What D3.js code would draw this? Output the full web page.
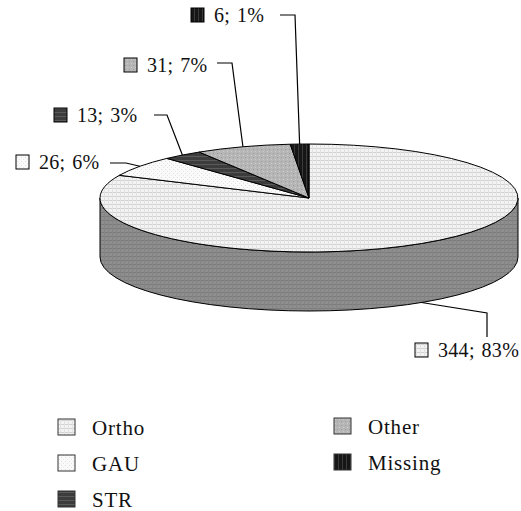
<!DOCTYPE html>
<html>
<head>
<meta charset="utf-8">
<script src="https://cdn.jsdelivr.net/npm/d3@7/dist/d3.min.js"></script>
<style>
  html, body { margin: 0; padding: 0; background: #fff; }
  svg text { font-family: "Liberation Serif", "DejaVu Serif", serif; font-size: 20px; fill: #111; letter-spacing: 0.3px; }
  svg text.lab { word-spacing: 1.5px; }
  svg text.leg { font-size: 21px; letter-spacing: 0.8px; }
</style>
</head>
<body>
<svg id="chart" width="521" height="511"></svg>
<script>
// Data, clockwise from 12 o'clock
const categories = ['Ortho', 'GAU', 'STR', 'Other', 'Missing'];
const counts = [344, 26, 13, 31, 6];
const percents = [83, 6, 3, 7, 1];

// Legend order (two columns)
const legendCol1 = ['Ortho', 'GAU', 'STR'];
const legendCol2 = ['Other', 'Missing'];

// Label layout: text position and the elbow of the leader line
const labelLayout = {
    Ortho:   { x: 438, y: 357, line: [[487, 337], [487, 313]], onSide: true },
    GAU:     { x: 39,  y: 169, line: [[110, 163], [126, 163]] },
    STR:     { x: 77,  y: 122, line: [[154, 115], [167, 115]] },
    Other:   { x: 147, y: 72,  line: [[217, 63],  [232, 63]] },
    Missing: { x: 214, y: 22,  line: [[280, 15],  [295, 15]] }
};

const svg = d3.select('#chart');
const cx = 309, cy = 198, rx = 209, ry = 54, depth = 59;

// Fill patterns like the old office chart textures
const defs = svg.append('defs');
function makePattern(id, base, lines) {
    const p = defs.append('pattern')
        .attr('id', id)
        .attr('patternUnits', 'userSpaceOnUse')
        .attr('width', 4).attr('height', 4);
    p.append('rect').attr('width', 4).attr('height', 4).attr('fill', base);
    lines.forEach(l => p.append('rect')
        .attr('x', l.x || 0).attr('y', l.y || 0)
        .attr('width', l.w).attr('height', l.h)
        .attr('fill', l.c));
}
makePattern('p-ortho', '#f3f3f3', [{ w: 4, h: 1, c: '#d2d2d2' }, { w: 1, h: 4, c: '#e2e2e2' }]);
makePattern('p-ortho-side', '#8e8e8e', [{ w: 4, h: 1, c: '#7c7c7c' }, { w: 1, h: 4, c: '#858585' }]);
makePattern('p-gau', '#fafafa', [{ x: 1, y: 1, w: 1, h: 1, c: '#dcdcdc' }, { x: 3, y: 3, w: 1, h: 1, c: '#e4e4e4' }]);
makePattern('p-str', '#3c3c3c', [{ w: 4, h: 1, c: '#5a5a5a' }]);
makePattern('p-other', '#b6b6b6', [{ x: 1, y: 1, w: 1, h: 1, c: '#9a9a9a' }, { x: 3, y: 3, w: 1, h: 1, c: '#cacaca' }]);
makePattern('p-missing', '#161616', [{ x: 2, w: 1, h: 4, c: '#3a3a3a' }]);

const fill = d3.scaleOrdinal()
    .domain(categories)
    .range(['url(#p-ortho)', 'url(#p-gau)', 'url(#p-str)', 'url(#p-other)', 'url(#p-missing)']);
const sideFill = d3.scaleOrdinal()
    .domain(categories)
    .range(['url(#p-ortho-side)', 'url(#p-gau)', 'url(#p-str)', 'url(#p-other)', 'url(#p-missing)']);

const data = categories.map((c, i) => ({ name: c, count: counts[i], pct: percents[i] }));
const arcs = d3.pie().sort(null).value(d => d.count)(data);

// point on the top ellipse for a pie angle (0 = 12 o'clock, clockwise)
const px = a => cx + rx * Math.sin(a);
const py = a => cy - ry * Math.cos(a);

// side walls: only the front half (angles between PI/2 and 3PI/2) shows
const gSide = svg.append('g');
arcs.forEach(d => {
    const a0 = Math.max(d.startAngle, Math.PI / 2);
    const a1 = Math.min(d.endAngle, 3 * Math.PI / 2);
    if (a1 <= a0) return;
    const large = (a1 - a0) > Math.PI ? 1 : 0;
    const top = `A${rx},${ry} 0 ${large} 1 ${px(a1)},${py(a1)}`;
    const bot = `A${rx},${ry} 0 ${large} 0 ${px(a0)},${py(a0) + depth}`;
    gSide.append('path')
        .attr('d', `M${px(a0)},${py(a0)} ${top} L${px(a1)},${py(a1) + depth} ${bot} Z`)
        .attr('fill', sideFill(d.data.name))
        .attr('stroke', '#000')
        .attr('stroke-width', 1);
});

// top face slices
const gTop = svg.append('g');
arcs.forEach(d => {
    const large = (d.endAngle - d.startAngle) > Math.PI ? 1 : 0;
    gTop.append('path')
        .attr('d', `M${cx},${cy} L${px(d.startAngle)},${py(d.startAngle)} ` +
            `A${rx},${ry} 0 ${large} 1 ${px(d.endAngle)},${py(d.endAngle)} Z`)
        .attr('fill', fill(d.data.name))
        .attr('stroke', '#000')
        .attr('stroke-width', 1)
        .attr('stroke-linejoin', 'round');
});

// data labels with leader lines
const gLab = svg.append('g');
arcs.forEach(d => {
    const lay = labelLayout[d.data.name];
    const mid = (d.startAngle + d.endAngle) / 2;
    const end = [px(mid), py(mid) + (lay.onSide ? depth : 0)];
    gLab.append('path')
        .attr('d', d3.line()([...lay.line, end]))
        .attr('fill', 'none')
        .attr('stroke', '#000')
        .attr('stroke-width', 1.2);
    gLab.append('rect')
        .attr('x', lay.x - 23).attr('y', lay.y - 14)
        .attr('width', 13).attr('height', 14)
        .attr('fill', fill(d.data.name))
        .attr('stroke', '#000');
    gLab.append('text')
        .attr('class', 'lab')
        .attr('x', lay.x).attr('y', lay.y)
        .text(`${d.data.count}; ${d.data.pct}%`);
});

// legend
function legendColumn(names, x, y0) {
    const g = svg.append('g');
    names.forEach((n, i) => {
        const y = y0 + i * 36;
        g.append('rect')
            .attr('x', x).attr('y', y)
            .attr('width', 17).attr('height', 16)
            .attr('fill', fill(n))
            .attr('stroke', '#333');
        g.append('text')
            .attr('class', 'leg')
            .attr('x', x + 34).attr('y', y + 16)
            .text(n);
    });
}
legendColumn(legendCol1, 58, 419);
legendColumn(legendCol2, 334, 418);
</script>
</body>
</html>
